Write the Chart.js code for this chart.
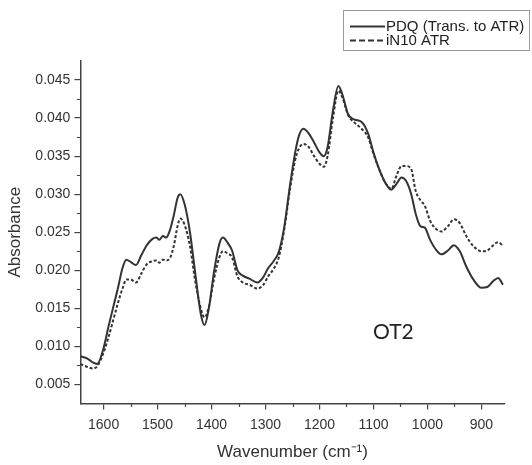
<!DOCTYPE html>
<html>
<head>
<meta charset="utf-8">
<script src="https://cdn.jsdelivr.net/npm/chart.js@4.4.1/dist/chart.umd.min.js"></script>
<style>
  html, body { margin: 0; padding: 0; background: #fff; }
  #wrap { width: 532px; height: 465px; }
</style>
</head>
<body>
<div id="wrap"><canvas id="ftirChart" width="532" height="465"></canvas></div>
<script>
// wavenumber grid (cm-1)
var wavenumbers = [1643, 1630, 1620, 1612, 1600, 1591, 1582, 1573, 1565, 1558, 1550, 1540, 1530, 1520, 1510,
  1502, 1497, 1490, 1484, 1477, 1470, 1463, 1458, 1450, 1440, 1430, 1420, 1413, 1405, 1395,
  1385, 1379, 1370, 1362, 1352, 1342, 1330, 1315, 1305, 1295, 1285, 1275, 1265, 1255, 1245,
  1238, 1230, 1220, 1210, 1200, 1192, 1185, 1175, 1165, 1158, 1147, 1135, 1122, 1110, 1100,
  1090, 1078, 1067, 1057, 1048, 1040, 1030, 1022, 1013, 1005, 995, 985, 974, 962, 951,
  940, 928, 915, 900, 889, 878, 869, 860];

// PDQ (Trans. to ATR) - solid
var pdq = [0.0087, 0.0084, 0.0079, 0.0077, 0.0098, 0.0126, 0.0152, 0.0178, 0.0203, 0.0214, 0.0211, 0.0207, 0.0220, 0.0233, 0.0241,
  0.0243, 0.0240, 0.0245, 0.0243, 0.0253, 0.0272, 0.0295, 0.0300, 0.0287, 0.0250, 0.0195, 0.0143, 0.0128, 0.0150, 0.0200,
  0.0236, 0.0243, 0.0236, 0.0226, 0.0200, 0.0193, 0.0189, 0.0184, 0.0190, 0.0203, 0.0212, 0.0225, 0.0258, 0.0310, 0.0355,
  0.0377, 0.0386, 0.0380, 0.0368, 0.0355, 0.0350, 0.0362, 0.0410, 0.0442, 0.0432, 0.0405, 0.0398, 0.0395, 0.0380, 0.0355,
  0.0334, 0.0315, 0.0306, 0.0314, 0.0322, 0.0318, 0.0300, 0.0275, 0.0258, 0.0256, 0.0240, 0.0228, 0.0221, 0.0226, 0.0233,
  0.0225, 0.0205, 0.0188, 0.0177, 0.0178, 0.0186, 0.0190, 0.0181];

// iN10 ATR - dashed
var in10 = [0.0077, 0.0073, 0.0071, 0.0074, 0.0092, 0.0112, 0.0135, 0.0158, 0.0176, 0.0188, 0.0188, 0.0184, 0.0196, 0.0208, 0.0212,
  0.0213, 0.0210, 0.0214, 0.0213, 0.0216, 0.0232, 0.0258, 0.0268, 0.0260, 0.0232, 0.0185, 0.0150, 0.0138, 0.0152, 0.0190,
  0.0218, 0.0225, 0.0222, 0.0217, 0.0192, 0.0184, 0.0181, 0.0176, 0.0180, 0.0192, 0.0202, 0.0218, 0.0255, 0.0305, 0.0345,
  0.0360, 0.0366, 0.0362, 0.0350, 0.0340, 0.0336, 0.0350, 0.0400, 0.0436, 0.0428, 0.0404, 0.0394, 0.0386, 0.0375, 0.0353,
  0.0334, 0.0315, 0.0307, 0.0325, 0.0337, 0.0337, 0.0333, 0.0305, 0.0292, 0.0285, 0.0265, 0.0255, 0.0251, 0.0258, 0.0267,
  0.0262, 0.0245, 0.0232, 0.0225, 0.0226, 0.0233, 0.0237, 0.0232];

var xTicks = [1600, 1500, 1400, 1300, 1200, 1100, 1000, 900];
var xMinor = [1550, 1450, 1350, 1250, 1150, 1050, 950];
var yTicks = [0.005, 0.010, 0.015, 0.020, 0.025, 0.030, 0.035, 0.040, 0.045];
var yMinor = [0.0075, 0.0125, 0.0175, 0.0225, 0.0275, 0.0325, 0.0375, 0.0425];

var seriesNames = ['PDQ (Trans. to ATR)', 'iN10 ATR'];
var sampleLabel = 'OT2';

var ink = '#333';
var axisInk = '#444';
var sans = '"Liberation Sans", Arial, sans-serif';

function toPoints(vals) {
  return wavenumbers.map(function (w, i) { return { x: w, y: vals[i] }; });
}

// minor ticks, framed legend and the sample label
var extras = {
  id: 'extras',
  afterDraw: function (chart) {
    var ctx = chart.ctx;
    var xs = chart.scales.x, ys = chart.scales.y;
    ctx.save();
    ctx.strokeStyle = axisInk;
    ctx.lineWidth = 1.2;
    ctx.beginPath();
    xMinor.forEach(function (v) {
      var px = Math.round(xs.getPixelForValue(v)) + 0.5;
      ctx.moveTo(px, xs.top);
      ctx.lineTo(px, xs.top + 3.5);
    });
    yMinor.forEach(function (v) {
      var py = Math.round(ys.getPixelForValue(v)) + 0.5;
      ctx.moveTo(ys.right, py);
      ctx.lineTo(ys.right - 3.5, py);
    });
    ctx.stroke();

    // legend box
    ctx.strokeStyle = '#9a9a9a';
    ctx.lineWidth = 1;
    ctx.strokeRect(343.5, 10.5, 186, 40);
    ctx.strokeStyle = ink;
    ctx.lineWidth = 2;
    ctx.beginPath();
    ctx.moveTo(350, 26.5);
    ctx.lineTo(385, 26.5);
    ctx.stroke();
    ctx.setLineDash([6, 3]);
    ctx.beginPath();
    ctx.moveTo(350, 40.5);
    ctx.lineTo(385, 40.5);
    ctx.stroke();
    ctx.setLineDash([]);
    ctx.fillStyle = '#222';
    ctx.font = '15px ' + sans;
    ctx.textBaseline = 'middle';
    ctx.textAlign = 'left';
    ctx.fillText(seriesNames[0], 386, 26.5);
    ctx.fillText(seriesNames[1], 386, 40.5);

    // sample label
    ctx.font = '21px Lato, "Open Sans", sans-serif';
    ctx.textAlign = 'center';
    ctx.fillText(sampleLabel, xs.getPixelForValue(1063), ys.getPixelForValue(0.0119));
    ctx.restore();
  }
};

var ctx = document.getElementById('ftirChart');

var ftirChart = new Chart(ctx, {
  type: 'line',
  data: {
    datasets: [
      {
        label: seriesNames[0],
        data: toPoints(pdq),
        borderColor: ink,
        borderWidth: 2,
        pointRadius: 0,
        fill: false,
        cubicInterpolationMode: 'monotone'
      },
      {
        label: seriesNames[1],
        data: toPoints(in10),
        borderColor: ink,
        borderWidth: 2,
        borderDash: [3, 2],
        pointRadius: 0,
        fill: false,
        cubicInterpolationMode: 'monotone'
      }
    ]
  },
  options: {
    responsive: false,
    animation: false,
    layout: { padding: { top: 61, right: 27.4, left: 0, bottom: 0 } },
    plugins: {
      legend: { display: false },
      tooltip: { enabled: false }
    },
    scales: {
      x: {
        type: 'linear',
        reverse: true,
        min: 857,
        max: 1643,
        afterBuildTicks: function (scale) {
          scale.ticks = xTicks.map(function (v) { return { value: v }; });
        },
        afterFit: function (scale) { scale.height = 61.5; },
        grid: { drawOnChartArea: false, tickLength: 6, color: axisInk, lineWidth: 1.2 },
        border: { color: axisInk, width: 1.5 },
        ticks: {
          color: ink,
          font: { family: sans, size: 14 },
          padding: 7,
          maxRotation: 0,
          callback: function (v) { return String(v); }
        },
        title: {
          display: true,
          text: 'Wavenumber (cm⁻¹)',
          color: ink,
          font: { family: sans, size: 17 },
          padding: { top: 0, bottom: 2 }
        }
      },
      y: {
        type: 'linear',
        min: 0.0025,
        max: 0.0475,
        afterBuildTicks: function (scale) {
          scale.ticks = yTicks.map(function (v) { return { value: v }; });
        },
        afterFit: function (scale) { scale.width = 80.4; },
        grid: { drawOnChartArea: false, tickLength: 6, color: axisInk, lineWidth: 1.2 },
        border: { color: axisInk, width: 1.5 },
        ticks: {
          color: ink,
          font: { family: sans, size: 14 },
          padding: 4,
          callback: function (v) { return v.toFixed(3); }
        },
        title: {
          display: true,
          text: 'Absorbance',
          color: ink,
          font: { family: sans, size: 17 },
          padding: { top: 5, bottom: 0 }
        }
      }
    }
  },
  plugins: [extras]
});
</script>
</body>
</html>
